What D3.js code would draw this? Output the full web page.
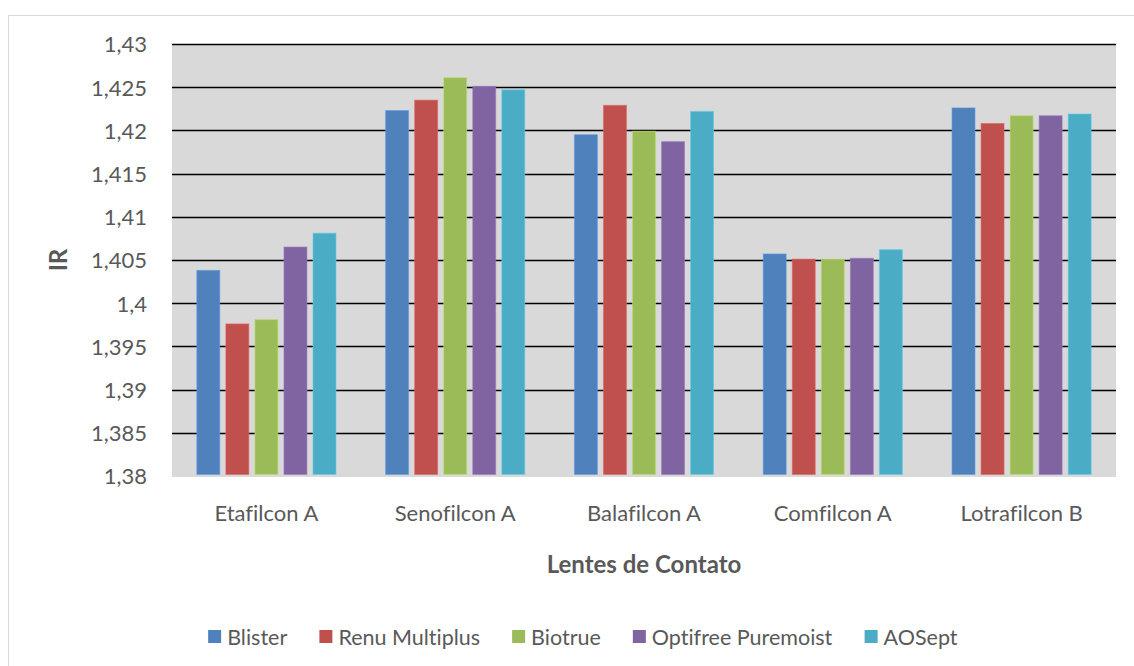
<!DOCTYPE html>
<html>
<head>
<meta charset="utf-8">
<script src="https://cdn.jsdelivr.net/npm/d3@7"></script>
<style>
  html, body { margin: 0; padding: 0; background: #fff; }
  svg { display: block; }
  text { font-family: Lato, "Open Sans", sans-serif; fill: #595959; font-variant-ligatures: none; font-feature-settings: "liga" 0; }
</style>
</head>
<body>
<svg id="chart" width="1134" height="666"></svg>
<script>
const categories = ["Etafilcon A", "Senofilcon A", "Balafilcon A", "Comfilcon A", "Lotrafilcon B"];
const seriesNames = ["Blister", "Renu Multiplus", "Biotrue", "Optifree Puremoist", "AOSept"];
const seriesColors = ["#4F81BD", "#C0504D", "#9BBB59", "#8064A2", "#4BACC6"];
const blister   = [1.4038, 1.4223, 1.4195, 1.4057, 1.4226];
const renu      = [1.3976, 1.4235, 1.4229, 1.4051, 1.4208];
const biotrue   = [1.3981, 1.4261, 1.4199, 1.4051, 1.4217];
const optifree  = [1.4065, 1.4251, 1.4187, 1.4052, 1.4217];
const aosept    = [1.4081, 1.4247, 1.4222, 1.4062, 1.4219];
const yTicks = [1.38, 1.385, 1.39, 1.395, 1.4, 1.405, 1.41, 1.415, 1.42, 1.425, 1.43];
const yTickLabels = ["1,38", "1,385", "1,39", "1,395", "1,4", "1,405", "1,41", "1,415", "1,42", "1,425", "1,43"];

const seriesValues = [blister, renu, biotrue, optifree, aosept];

const svg = d3.select("#chart");
const W = 1134, H = 666;
const plot = { left: 172, right: 1116, top: 44, bottom: 476 };

// outer chart border (top and left visible)
svg.append("line").attr("x1", 8.5).attr("y1", 15.5).attr("x2", W).attr("y2", 15.5)
  .attr("stroke", "#d9d9d9").attr("stroke-width", 1);
svg.append("line").attr("x1", 8.5).attr("y1", 15.5).attr("x2", 8.5).attr("y2", H)
  .attr("stroke", "#d9d9d9").attr("stroke-width", 1);

const y = d3.scaleLinear().domain([1.38, 1.43]).range([plot.bottom, plot.top]);
const x0 = d3.scaleBand().domain(categories).range([plot.left, plot.right]).padding(0);
const x1 = d3.scaleBand().domain(seriesNames).range([0, x0.bandwidth()])
  .paddingInner(0.21).paddingOuter(0.855);

// plot background
svg.append("rect")
  .attr("x", plot.left).attr("y", plot.top)
  .attr("width", plot.right - plot.left).attr("height", plot.bottom - plot.top + 1)
  .attr("fill", "#d9d9d9");

// gridlines
svg.append("g").selectAll("line")
  .data(yTicks.filter(t => t > 1.38))
  .join("line")
  .attr("x1", plot.left).attr("x2", plot.right)
  .attr("y1", d => Math.round(y(d)) + 0.5).attr("y2", d => Math.round(y(d)) + 0.5)
  .attr("stroke", "#000").attr("stroke-width", 1.4);

// y axis labels
const yAxis = d3.axisLeft(y).tickValues(yTicks)
  .tickFormat((d, i) => yTickLabels[i]).tickSize(0).tickPadding(0);
const gy = svg.append("g").attr("transform", `translate(147,0)`).call(yAxis);
gy.select(".domain").remove();
gy.selectAll("text").style("font-size", "22px").style("font-family", "Lato, sans-serif")
  .attr("fill", "#595959").attr("dy", "0.36em");

// bars
const rows = categories.map((c, ci) => ({ cat: c, vals: seriesNames.map((s, si) => ({ s, si, v: seriesValues[si][ci] })) }));
const groups = svg.append("g").selectAll("g").data(rows).join("g")
  .attr("transform", d => `translate(${x0(d.cat)},0)`);
groups.selectAll("rect").data(d => d.vals).join("rect")
  .attr("x", d => x1(d.s))
  .attr("y", d => y(d.v))
  .attr("width", x1.bandwidth())
  .attr("height", d => y(1.38) - 1.5 - y(d.v))
  .attr("fill", d => seriesColors[d.si])
  .attr("stroke", d => d3.color(seriesColors[d.si]).brighter(0.5))
  .attr("stroke-opacity", 0.6)
  .attr("stroke-width", 1);

// x axis labels
const xAxis = d3.axisBottom(x0).tickSize(0).tickPadding(0);
const gx = svg.append("g").attr("transform", `translate(0,521)`).call(xAxis);
gx.select(".domain").remove();
gx.selectAll("text").style("font-size", "22px").style("font-family", "Lato, sans-serif")
  .attr("fill", "#595959").attr("dy", 0).attr("y", 0);

// axis titles
svg.append("text").attr("x", 644).attr("y", 573).attr("text-anchor", "middle")
  .style("font-size", "24px").style("font-weight", "bold").text("Lentes de Contato");
svg.append("text").attr("transform", "translate(67,260) rotate(-90)").attr("text-anchor", "middle")
  .style("font-size", "24px").style("font-weight", "bold").text("IR");

// legend
const legend = svg.append("g");
const items = legend.selectAll("g").data(seriesNames).join("g");
items.append("rect").attr("width", 13).attr("height", 13).attr("y", -13)
  .attr("fill", (d, i) => seriesColors[i]);
items.append("text").attr("x", 19).attr("y", 0).attr("dy", "0.1em")
  .style("font-size", "21.5px").text(d => d);
let cx = 0;
const positions = [];
items.each(function () {
  const w = this.getBBox().width;
  positions.push(cx);
  cx += w + 32;
});
const totalW = cx - 32;
const startX = 583 - totalW / 2;
items.attr("transform", (d, i) => `translate(${startX + positions[i]},643)`);
</script>
</body>
</html>
